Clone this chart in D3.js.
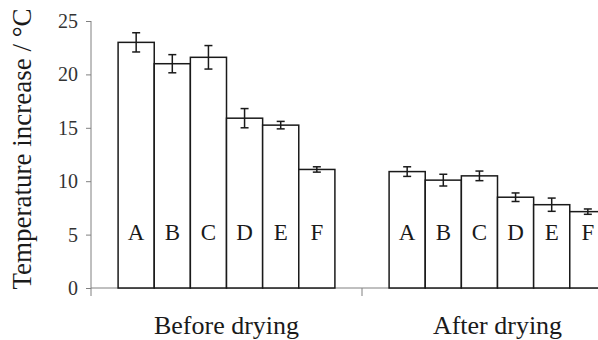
<!DOCTYPE html>
<html>
<head>
<meta charset="utf-8">
<script src="https://cdn.jsdelivr.net/npm/d3@7/dist/d3.min.js"></script>
<style>
  body { margin: 0; background: #fff; }
  svg text { font-family: "Liberation Serif", "Times New Roman", serif; fill: #1a1a1a; }
</style>
</head>
<body>
<div class="chart"></div>
<script>
// data
const groups = ["Before drying", "After drying"];
const samples = ["A", "B", "C", "D", "E", "F"];
const before = [23.0, 21.0, 21.6, 15.9, 15.25, 11.1];
const beforeErr = [0.9, 0.85, 1.1, 0.9, 0.35, 0.25];
const after = [10.9, 10.1, 10.5, 8.5, 7.8, 7.15];
const afterErr = [0.45, 0.55, 0.45, 0.4, 0.62, 0.25];
const yTicks = [0, 5, 10, 15, 20, 25];

const width = 598, height = 340;
const margin = { top: 21, left: 91, bottom: 52 };
const plotRight = 633; // the original plot runs past the crop

const rows = [
    { group: groups[0], values: before, errs: beforeErr },
    { group: groups[1], values: after, errs: afterErr }
];

const svg = d3.select("div.chart")
    .append("svg")
    .attr("width", width)
    .attr("height", height);

const x = d3.scaleBand()
    .domain(groups)
    .range([margin.left, plotRight]);

// bars sit in the middle of each group, gap 150% like Excel
const xInner = d3.scaleBand()
    .domain(samples)
    .range([0, x.bandwidth()])
    .paddingOuter(0.75)
    .paddingInner(0);

const y = d3.scaleLinear()
    .domain([0, 25])
    .range([height - margin.bottom, margin.top]);

// y axis
const yAxis = svg.append("g")
    .attr("transform", `translate(${margin.left},0)`)
    .call(d3.axisLeft(y).tickValues(yTicks).tickSize(5).tickPadding(8));
yAxis.select(".domain").remove();
yAxis.selectAll(".tick line").attr("stroke", "#808080");
yAxis.selectAll(".tick text")
    .style("font-family", "'Liberation Serif', serif")
    .style("font-size", "20px")
    .style("fill", "#333");
yAxis.append("line")
    .attr("y1", y(25))
    .attr("y2", y(0) + 8)
    .attr("stroke", "#808080");

// x axis line + group ticks on the band edges
svg.append("line")
    .attr("x1", margin.left)
    .attr("x2", plotRight)
    .attr("y1", y(0))
    .attr("y2", y(0))
    .attr("stroke", "#808080");
svg.selectAll("line.gtick")
    .data(groups.slice(1))
    .join("line")
    .attr("class", "gtick")
    .attr("x1", d => x(d))
    .attr("x2", d => x(d))
    .attr("y1", y(0))
    .attr("y2", y(0) + 8)
    .attr("stroke", "#808080");

svg.selectAll("text.glabel")
    .data(groups)
    .join("text")
    .attr("class", "glabel")
    .attr("x", d => x(d) + x.bandwidth() / 2)
    .attr("y", 334)
    .attr("text-anchor", "middle")
    .style("font-size", "26px")
    .text(d => d);

// bars
const g = svg.selectAll("g.group")
    .data(rows)
    .join("g")
    .attr("class", "group")
    .attr("transform", d => `translate(${x(d.group)},0)`);

const bar = g.selectAll("g.bar")
    .data(d => d.values.map((v, i) => ({ s: samples[i], v: v, e: d.errs[i] })))
    .join("g")
    .attr("class", "bar");

bar.append("rect")
    .attr("x", d => xInner(d.s))
    .attr("y", d => y(d.v))
    .attr("width", xInner.bandwidth())
    .attr("height", d => y(0) - y(d.v))
    .attr("fill", "#fff")
    .attr("stroke", "#1a1a1a")
    .attr("stroke-width", 1.5);

// error bars
const cx = d => xInner(d.s) + xInner.bandwidth() / 2;
bar.append("line")
    .attr("x1", cx).attr("x2", cx)
    .attr("y1", d => y(d.v + d.e))
    .attr("y2", d => y(d.v - d.e))
    .attr("stroke", "#1a1a1a")
    .attr("stroke-width", 1.5);
[1, -1].forEach(k => {
    bar.append("line")
        .attr("x1", d => cx(d) - 4)
        .attr("x2", d => cx(d) + 4)
        .attr("y1", d => y(d.v + k * d.e))
        .attr("y2", d => y(d.v + k * d.e))
        .attr("stroke", "#1a1a1a")
        .attr("stroke-width", 1.5);
});

bar.append("text")
    .attr("x", cx)
    .attr("y", 240)
    .attr("text-anchor", "middle")
    .style("font-size", "23px")
    .text(d => d.s);

// y title
svg.append("text")
    .attr("transform", `translate(31,${(8 + 290) / 2}) rotate(-90)`)
    .attr("text-anchor", "middle")
    .style("font-size", "27px")
    .text("Temperature increase / °C");
</script>
</body>
</html>
